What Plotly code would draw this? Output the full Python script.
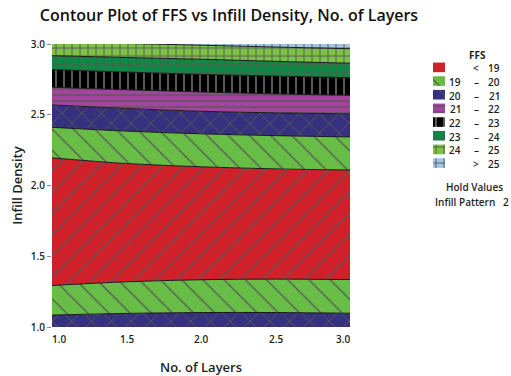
import plotly.graph_objects as go

# ---------------- data ----------------
layers = [1.0, 1.5, 2.0, 2.5, 3.0]
layers_range = [1.0, 3.0]
density_range = [1.0, 3.0]

# Infill Density at which FFS crosses each contour level, sampled along No. of Layers
ffs20_low = [1.085, 1.097, 1.103, 1.103, 1.098]
ffs19_low = [1.294, 1.320, 1.335, 1.339, 1.336]
ffs19_high = [2.196, 2.156, 2.133, 2.118, 2.110]
ffs20_high = [2.412, 2.385, 2.366, 2.353, 2.344]
ffs21 = [2.570, 2.545, 2.525, 2.514, 2.507]
ffs22 = [2.695, 2.677, 2.661, 2.648, 2.638]
ffs23 = [2.820, 2.802, 2.786, 2.774, 2.763]
ffs24 = [2.918, 2.905, 2.893, 2.878, 2.865]
ffs25 = [3.016, 3.004, 2.992, 2.979, 2.967]

contour_lines = [ffs20_low, ffs19_low, ffs19_high, ffs20_high,
                 ffs21, ffs22, ffs23, ffs24, ffs25]
# FFS class of each band, from the bottom of the plot upwards
band_classes = ["20-21", "19-20", "<19", "19-20", "20-21",
                "21-22", "22-23", "23-24", "24-25", ">25"]

# legend rows
legend_classes = ["<19", "19-20", "20-21", "21-22", "22-23", "23-24", "24-25", ">25"]
legend_low = ["", "19", "20", "21", "22", "23", "24", ""]
legend_sep = ["<", "–", "–", "–", "–", "–", "–", ">"]
legend_high = ["19", "20", "21", "22", "23", "24", "25", "25"]

x_ticks = [1.0, 1.5, 2.0, 2.5, 3.0]
x_tick_text = ["1.0", "1.5", "2.0", "2.5", "3.0"]
y_ticks = [1.0, 1.5, 2.0, 2.5, 3.0]
y_tick_text = ["1.0", "1.5", "2.0", "2.5", "3.0"]

hold_label = "Infill Pattern"
hold_value = "2"

# ---------------- styles ----------------
W, H = 511, 376
FONT = "Open Sans"
TXT = "#1e1e1e"
EDGE = "#1a1a1a"
HATCH = "#585858"

STYLE = {
    "<19":   dict(color="#D0212A", shape="/",  size=15, solidity=0.085),
    "19-20": dict(color="#67BD45", shape="\\", size=15, solidity=0.085),
    "20-21": dict(color="#36317E", shape="x",  size=14, solidity=0.13),
    "21-22": dict(color="#A4449E", shape="-",  size=6,  solidity=0.22),
    "22-23": dict(color="#000000", shape="|",  size=8,  solidity=0.25),
    "23-24": dict(color="#0B8A43", shape="+",  size=8,  solidity=0.22),
    "24-25": dict(color="#7CC243", shape="+",  size=8,  solidity=0.22),
    ">25":   dict(color="#A3C4E6", shape="+",  size=8,  solidity=0.22),
}


def pattern(cls):
    st = STYLE[cls]
    return dict(shape=st["shape"], fgcolor=HATCH, bgcolor=st["color"],
                size=st["size"], solidity=st["solidity"], fillmode="replace")


fig = go.Figure()

# bottom edge of the plotted region
fig.add_trace(go.Scatter(
    x=layers, y=[density_range[0]] * len(layers), mode="lines",
    line=dict(width=0), hoverinfo="skip", showlegend=False))

uppers = contour_lines + [[density_range[1]] * len(layers)]
for i, (cls, upper) in enumerate(zip(band_classes, uppers)):
    last = i == len(uppers) - 1
    fig.add_trace(go.Scatter(
        x=layers, y=upper, mode="lines",
        line=dict(color="rgba(0,0,0,0)" if last else EDGE,
                  width=0 if last else 1, shape="spline", smoothing=1.0),
        fill="tonexty", fillcolor=STYLE[cls]["color"],
        fillpattern=pattern(cls),
        hoverinfo="skip", showlegend=False))

# ---------------- legend (own pixel-space axes) ----------------
row_y0, row_dy = 62.7, 14.2
sw_x0, sw_x1, sw_h = 433, 445, 10
for i, cls in enumerate(legend_classes):
    cy = row_y0 + i * row_dy
    fig.add_trace(go.Scatter(
        x=[sw_x0, sw_x1, sw_x1, sw_x0, sw_x0],
        y=[cy - sw_h / 2, cy - sw_h / 2, cy + sw_h / 2, cy + sw_h / 2, cy - sw_h / 2],
        mode="lines", line=dict(width=0), fill="toself",
        fillcolor=STYLE[cls]["color"], fillpattern=pattern(cls),
        xaxis="x2", yaxis="y2", hoverinfo="skip", showlegend=False))

annotations = []


def txt(x, y, s, anchor="center", size=10, weight=600, xref="x2", yref="y2"):
    annotations.append(dict(
        x=x, y=y, xref=xref, yref=yref, text=s, showarrow=False,
        xanchor=anchor, yanchor="middle",
        font=dict(family=FONT, size=size, color=TXT, weight=weight)))


txt(477, 50, "FFS", size=10, weight=700)
for i in range(len(legend_classes)):
    cy = row_y0 + i * row_dy + 1
    if legend_low[i]:
        txt(463, cy, legend_low[i], anchor="right")
    txt(476, cy, legend_sep[i])
    txt(502, cy, legend_high[i], anchor="right")

txt(474, 187, "Hold Values", size=10)
txt(433, 203, f"{hold_label}&nbsp;&nbsp;&nbsp;{hold_value}", anchor="left", size=10)

# x tick labels, end labels kept inside the plot width
for j, (v, s) in enumerate(zip(x_ticks, x_tick_text)):
    anchor = "left" if j == 0 else ("right" if j == len(x_ticks) - 1 else "center")
    shift = -2 if j == 0 else (2 if j == len(x_ticks) - 1 else 0)
    annotations.append(dict(
        x=v, y=345, xref="x", yref="y2", text=s, showarrow=False,
        xanchor=anchor, yanchor="middle", xshift=shift,
        font=dict(family=FONT, size=10, color=TXT, weight=600)))

# ---------------- layout ----------------
px_left, px_right = 52, 350
px_top, px_bottom = 38.5, 332.5

fig.update_layout(
    width=W, height=H, autosize=False,
    margin=dict(l=0, r=0, t=0, b=0),
    paper_bgcolor="white", plot_bgcolor="rgba(0,0,0,0)",
    font=dict(family=FONT, color=TXT),
    title=dict(text="Contour Plot of FFS vs Infill Density, No. of Layers",
               x=229 / W, xanchor="center", y=1 - 15 / H, yanchor="middle",
               font=dict(family=FONT, size=16, color="#111", weight=600)),
    xaxis=dict(domain=[px_left / W, px_right / W], range=layers_range,
               showgrid=False, zeroline=False, showline=False,
               showticklabels=False, ticks="",
               title=dict(text="No. of Layers", standoff=36,
                          font=dict(family=FONT, size=13, weight=600, color=TXT))),
    yaxis=dict(domain=[1 - px_bottom / H, 1 - px_top / H], range=density_range,
               showgrid=False, zeroline=False, showline=False,
               tickvals=y_ticks, ticktext=y_tick_text,
               ticks="outside", ticklen=4, tickcolor="#8a8a8a", tickwidth=1,
               tickfont=dict(family=FONT, size=10, weight=600, color=TXT),
               title=dict(text="Infill Density", standoff=5,
                          font=dict(family=FONT, size=13, weight=600, color=TXT))),
    xaxis2=dict(domain=[0, 1], range=[0, W], visible=False, fixedrange=True),
    yaxis2=dict(domain=[0, 1], range=[H, 0], visible=False, fixedrange=True),
    annotations=annotations,
)

fig.write_html("out.html")
